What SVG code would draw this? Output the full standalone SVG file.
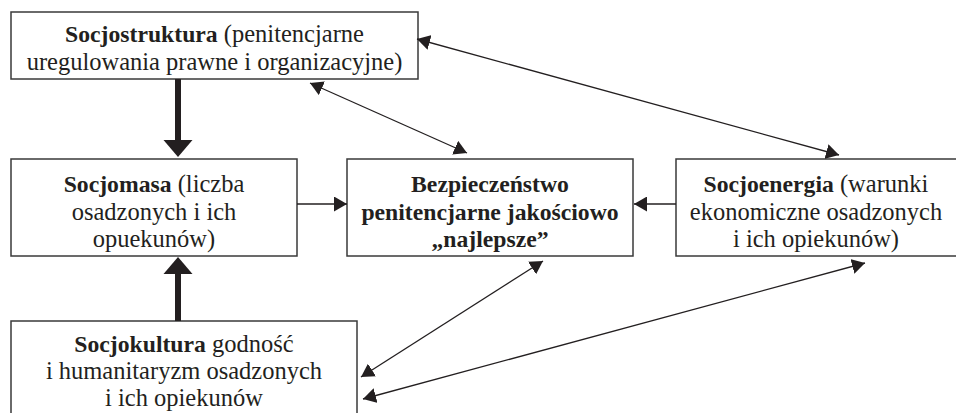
<svg xmlns="http://www.w3.org/2000/svg" width="956" height="413" viewBox="0 0 956 413">
  <style>
    .box { fill: #ffffff; stroke: #3a3a3a; stroke-width: 1.5; }
    .t { font-family: "Liberation Serif", "Times New Roman", serif; font-size: 24.5px; fill: #231f20; text-anchor: middle; }
    .b { font-weight: bold; font-size: 23.7px; }
    .thin { stroke: #231f20; stroke-width: 1.3; fill: none; marker-end: url(#ah); }
    .dbl { marker-start: url(#ah); }
    .thick { stroke: #231f20; stroke-width: 6; fill: none; }
    .head { fill: #231f20; stroke: none; }
  </style>
  <defs>
    <marker id="ah" viewBox="0 0 13 15" markerWidth="13" markerHeight="15" refX="13" refY="7.5" orient="auto-start-reverse" markerUnits="userSpaceOnUse">
      <path d="M0,0 L13,7.5 L0,15 z" fill="#231f20"/>
    </marker>
  </defs>
  <rect width="956" height="413" fill="#ffffff"/>

  <g id="socjostruktura">
    <rect class="box" x="11" y="12" width="407" height="67"/>
    <text class="t" x="214.5" y="42"><tspan class="b">Socjostruktura</tspan> (penitencjarne</text>
    <text class="t" x="214.5" y="70">uregulowania prawne i organizacyjne)</text>
  </g>

  <g id="socjomasa">
    <rect class="box" x="11" y="159" width="286" height="97"/>
    <text class="t" x="154" y="192"><tspan class="b">Socjomasa</tspan> (liczba</text>
    <text class="t" x="154" y="220">osadzonych i ich</text>
    <text class="t" x="154" y="247">opuekunów)</text>
  </g>

  <g id="bezpieczenstwo">
    <rect class="box" x="347" y="159" width="286" height="97"/>
    <text class="t b" x="490" y="192">Bezpieczeństwo</text>
    <text class="t b" x="490" y="220">penitencjarne jakościowo</text>
    <text class="t b" x="490" y="247">„najlepsze”</text>
  </g>

  <g id="socjoenergia">
    <rect class="box" x="676" y="159" width="284" height="97"/>
    <text class="t" x="816" y="192"><tspan class="b">Socjoenergia</tspan> (warunki</text>
    <text class="t" x="816" y="220">ekonomiczne osadzonych</text>
    <text class="t" x="816" y="247">i ich opiekunów)</text>
  </g>

  <g id="socjokultura">
    <rect class="box" x="11" y="321" width="346" height="96"/>
    <text class="t" x="184" y="352"><tspan class="b">Socjokultura</tspan> godność</text>
    <text class="t" x="184" y="379">i humanitaryzm osadzonych</text>
    <text class="t" x="184" y="406">i ich opiekunów</text>
  </g>

  <g id="connectors">
    <!-- thick: Socjostruktura -> Socjomasa -->
    <line class="thick" x1="178" y1="79" x2="178" y2="142"/>
    <polygon class="head" points="163.5,140 192.5,140 178,157"/>
    <!-- thick: Socjokultura -> Socjomasa -->
    <line class="thick" x1="178" y1="321" x2="178" y2="272"/>
    <polygon class="head" points="163.5,274 192.5,274 178,257"/>
    <!-- Socjomasa -> Bezpieczenstwo -->
    <line class="thin" x1="297" y1="204" x2="347" y2="204"/>
    <!-- Socjoenergia -> Bezpieczenstwo -->
    <line class="thin" x1="676" y1="204" x2="634" y2="204"/>
    <!-- Socjostruktura <-> Bezpieczenstwo -->
    <line class="thin dbl" x1="310" y1="83" x2="467" y2="153"/>
    <!-- Socjostruktura <-> Socjoenergia -->
    <line class="thin dbl" x1="417" y1="39" x2="839" y2="155"/>
    <!-- Bezpieczenstwo <-> Socjokultura -->
    <line class="thin dbl" x1="543" y1="261" x2="361" y2="377"/>
    <!-- Socjoenergia <-> Socjokultura -->
    <line class="thin dbl" x1="865" y1="263" x2="363" y2="399"/>
  </g>
</svg>
